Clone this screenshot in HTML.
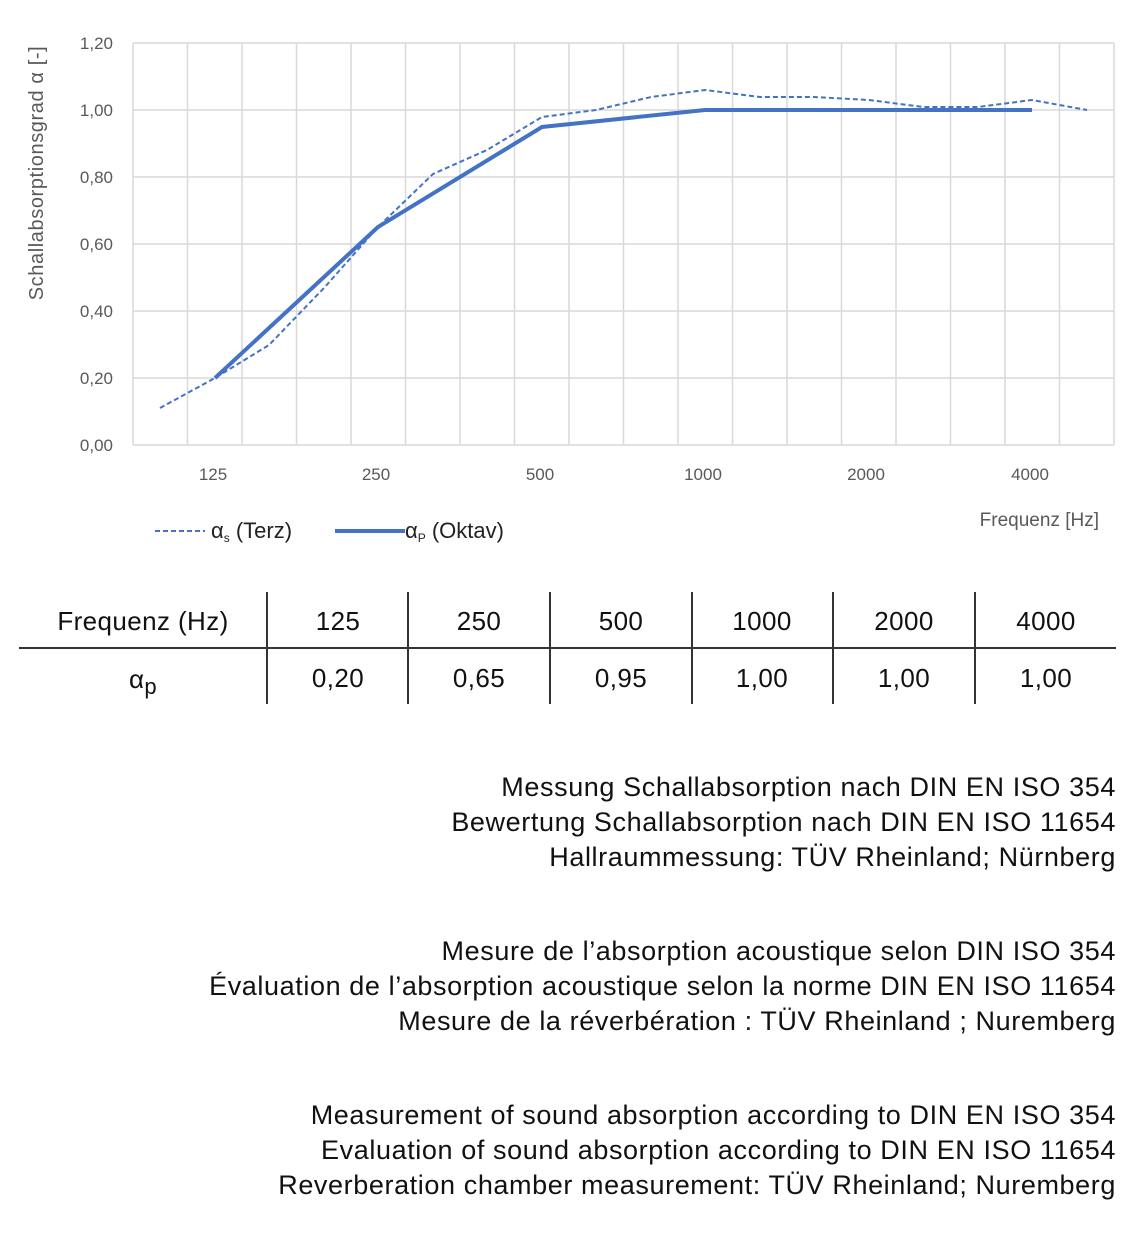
<!DOCTYPE html>
<html><head><meta charset="utf-8"><style>
body{margin:0;background:#fff;width:1135px;height:1234px;overflow:hidden;position:relative;font-family:"Liberation Sans",sans-serif;}
.t{position:absolute;right:19px;font-size:27px;letter-spacing:0.6px;color:#111;text-align:right;line-height:35px;white-space:nowrap;}
</style></head><body>
<svg width="1135" height="1234" style="position:absolute;left:0;top:0" font-family="Liberation Sans, sans-serif">
<g stroke="#d9d9d9" stroke-width="1.5">
<line x1="133" y1="43" x2="1114" y2="43"/><line x1="133" y1="110" x2="1114" y2="110"/><line x1="133" y1="177" x2="1114" y2="177"/><line x1="133" y1="244" x2="1114" y2="244"/><line x1="133" y1="311" x2="1114" y2="311"/><line x1="133" y1="378" x2="1114" y2="378"/><line x1="133" y1="445" x2="1114" y2="445"/>
<line x1="133.0" y1="43" x2="133.0" y2="445"/><line x1="187.5" y1="43" x2="187.5" y2="445"/><line x1="242.0" y1="43" x2="242.0" y2="445"/><line x1="296.5" y1="43" x2="296.5" y2="445"/><line x1="351.0" y1="43" x2="351.0" y2="445"/><line x1="405.5" y1="43" x2="405.5" y2="445"/><line x1="460.0" y1="43" x2="460.0" y2="445"/><line x1="514.5" y1="43" x2="514.5" y2="445"/><line x1="569.0" y1="43" x2="569.0" y2="445"/><line x1="623.5" y1="43" x2="623.5" y2="445"/><line x1="678.0" y1="43" x2="678.0" y2="445"/><line x1="732.5" y1="43" x2="732.5" y2="445"/><line x1="787.0" y1="43" x2="787.0" y2="445"/><line x1="841.5" y1="43" x2="841.5" y2="445"/><line x1="896.0" y1="43" x2="896.0" y2="445"/><line x1="950.5" y1="43" x2="950.5" y2="445"/><line x1="1005.0" y1="43" x2="1005.0" y2="445"/><line x1="1059.5" y1="43" x2="1059.5" y2="445"/><line x1="1114.0" y1="43" x2="1114.0" y2="445"/>
</g>
<g fill="#595959" font-size="17" text-anchor="end">
<text x="113" y="49">1,20</text><text x="113" y="116">1,00</text><text x="113" y="183">0,80</text><text x="113" y="250">0,60</text><text x="113" y="317">0,40</text><text x="113" y="384">0,20</text><text x="113" y="451">0,00</text>
</g>
<g fill="#595959" font-size="17" text-anchor="middle">
<text x="213" y="480">125</text><text x="376" y="480">250</text><text x="540" y="480">500</text><text x="703" y="480">1000</text><text x="866" y="480">2000</text><text x="1030" y="480">4000</text>
</g>
<text x="0" y="0" fill="#595959" font-size="20" letter-spacing="0.6" text-anchor="middle" transform="translate(43,173) rotate(-90)">Schallabsorptionsgrad α [-]</text>
<text x="1099" y="526" fill="#595959" font-size="19" text-anchor="end">Frequenz [Hz]</text>
<polyline fill="none" stroke="#4472c4" stroke-width="2" stroke-dasharray="5,3" points="160,408 215,378 269,345 324,288 378,227 433,174 487,150 542,117 596,110 651,97 705,90 760,97 814,97 869,100 923,107 978,107 1032,100 1087,110"/>
<polyline fill="none" stroke="#4472c4" stroke-width="4" points="215,378 378,227 542,127 705,110 869,110 1032,110"/>
<line x1="155" y1="531" x2="205" y2="531" stroke="#4472c4" stroke-width="2" stroke-dasharray="5,3"/>
<text x="211" y="538" font-size="22" fill="#222">α<tspan font-size="12" dy="4">s</tspan><tspan dy="-4"> (Terz)</tspan></text>
<line x1="335" y1="531" x2="405" y2="531" stroke="#4472c4" stroke-width="4"/>
<text x="405" y="538" font-size="22" fill="#222">α<tspan font-size="12" dy="4">P</tspan><tspan dy="-4"> (Oktav)</tspan></text>
<line x1="19" y1="648" x2="1116" y2="648" stroke="#333" stroke-width="2"/>
<g stroke="#333" stroke-width="2"><line x1="267" y1="592" x2="267" y2="704"/><line x1="408" y1="592" x2="408" y2="704"/><line x1="550" y1="592" x2="550" y2="704"/><line x1="692" y1="592" x2="692" y2="704"/><line x1="833" y1="592" x2="833" y2="704"/><line x1="975" y1="592" x2="975" y2="704"/></g>
<g font-size="26" fill="#111" text-anchor="middle" letter-spacing="0.4">
<text x="143" y="630">Frequenz (Hz)</text><text x="338" y="630">125</text><text x="479" y="630">250</text><text x="621" y="630">500</text><text x="762" y="630">1000</text><text x="904" y="630">2000</text><text x="1046" y="630">4000</text>
<text x="143" y="688">α<tspan font-size="22" dy="6">p</tspan></text><text x="338" y="687">0,20</text><text x="479" y="687">0,65</text><text x="621" y="687">0,95</text><text x="762" y="687">1,00</text><text x="904" y="687">1,00</text><text x="1046" y="687">1,00</text>
</g>
</svg>
<div class="t" style="top:770px">Messung Schallabsorption nach DIN EN ISO 354<br>Bewertung Schallabsorption nach DIN EN ISO 11654<br>Hallraummessung: TÜV Rheinland; Nürnberg</div>
<div class="t" style="top:934px">Mesure de l’absorption acoustique selon DIN ISO 354<br>Évaluation de l’absorption acoustique selon la norme DIN EN ISO 11654<br>Mesure de la réverbération : TÜV Rheinland ; Nuremberg</div>
<div class="t" style="top:1098px">Measurement of sound absorption according to DIN EN ISO 354<br>Evaluation of sound absorption according to DIN EN ISO 11654<br>Reverberation chamber measurement: TÜV Rheinland; Nuremberg</div>
</body></html>
